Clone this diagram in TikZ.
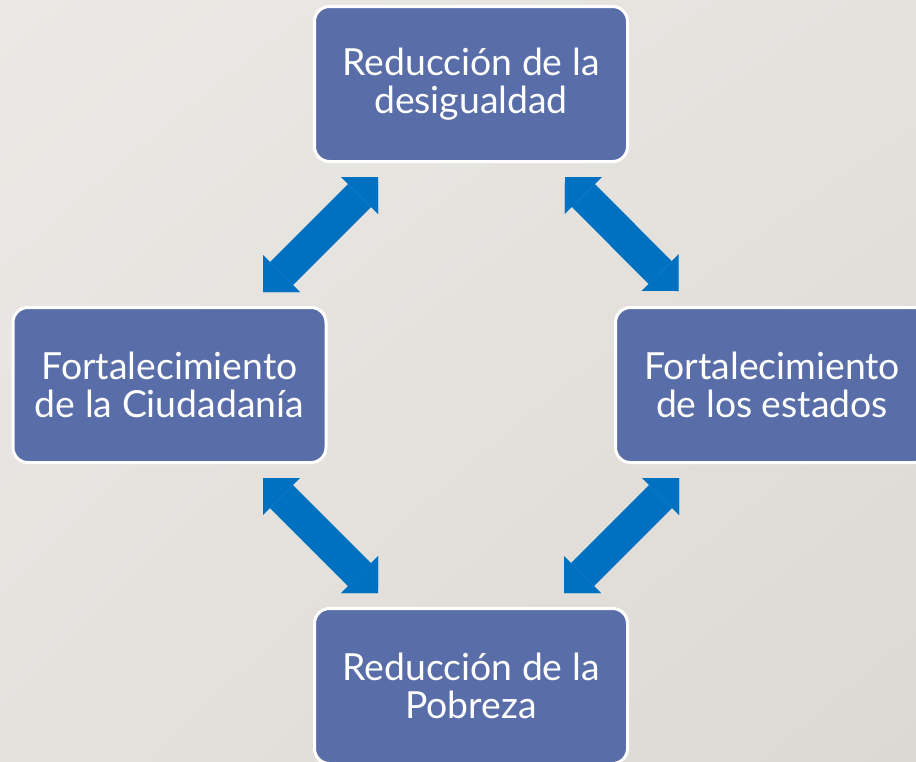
\documentclass[tikz,border=0pt]{standalone}
\usepackage{fontspec}
\setmainfont{Lato}
\usetikzlibrary{arrows.meta,shadings}
\definecolor{boxblue}{HTML}{596EA8}
\definecolor{arrowblue}{HTML}{0070C0}
\definecolor{bgA}{HTML}{EBE9E5}
\definecolor{bgM}{HTML}{E5E2DE}
\definecolor{bgB}{HTML}{DCD9D4}
\tikzset{
  stagebox/.style={draw=white, line width=2.25pt, fill=boxblue, rounded corners=11.25pt,
    minimum width=234.75pt, minimum height=116.25pt, inner sep=0pt,
    text=white, align=center, font=\fontsize{28pt}{28.5pt}\selectfont},
  bigarrow/.style={draw=arrowblue, line width=24.4pt,
    {Triangle[length=19.5pt, width=39pt, line width=0.01pt]}-{Triangle[length=19.5pt, width=39pt, line width=0.01pt]}}
}
\begin{document}
\begin{tikzpicture}[x=0.75pt, y=-0.75pt]
\useasboundingbox (0,0) rectangle (916,761);
\shade[upper left=bgA, upper right=bgM, lower left=bgM, lower right=bgB] (0,0) rectangle (916,761);
\begin{scope}
\clip (0,0) rectangle (916,761);
\node[stagebox] (top) at (471,84) {Reducción de la\\desigualdad};
\node[stagebox] (left) at (169.5,385) {Fortalecimiento\\de la Ciudadanía};
\node[stagebox] (right) at (772,385) {Fortalecimiento\\de los estados};
\node[stagebox] (bottom) at (471,686) {Reducción de la\\Pobreza};
\end{scope}
\coordinate (tlA) at (263,292);
\coordinate (tlB) at (378,177);
\coordinate (trA) at (565,177);
\coordinate (trB) at (678.5,291);
\coordinate (blA) at (263,478);
\coordinate (blB) at (378,593);
\coordinate (brA) at (679,478);
\coordinate (brB) at (564,593);
\draw[bigarrow] (tlA) -- (tlB);
\draw[bigarrow] (trA) -- (trB);
\draw[bigarrow] (blA) -- (blB);
\draw[bigarrow] (brA) -- (brB);
\end{tikzpicture}
\end{document}
